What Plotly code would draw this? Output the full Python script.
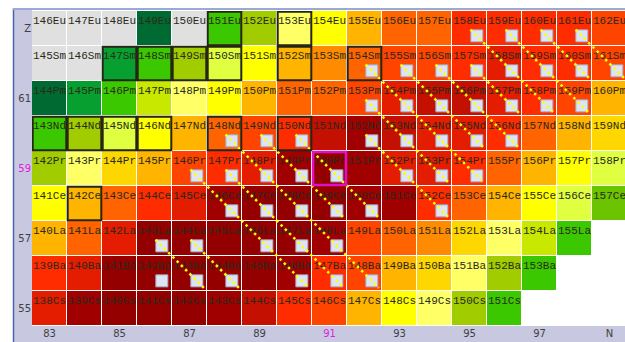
import plotly.graph_objects as go

# Chart of nuclides: rows are elements (Z), columns are neutron numbers (N)
symbols = ['Cs', 'Ba', 'La', 'Ce', 'Pr', 'Nd', 'Pm', 'Sm', 'Eu']
z_numbers = [55, 56, 57, 58, 59, 60, 61, 62, 63]
n_first = 83
n_last = 99

# Colour classes (index -> fill colour)
palette = [
    '#e0e0e0',  # 0  grey
    '#006a33',  # 1  dark green
    '#07a030',  # 2  medium green
    '#3cc800',  # 3  green
    '#6cc400',  # 4
    '#a0cc00',  # 5  yellow-green
    '#c8e800',  # 6  lime
    '#e0ff40',  # 7  pale lime
    '#ffff66',  # 8  light yellow
    '#ffff00',  # 9  yellow
    '#ffd700',  # 10 gold
    '#ffb400',  # 11 orange-yellow
    '#ff8c00',  # 12 orange
    '#ff6400',  # 13 dark orange
    '#ff4400',  # 14 orange-red
    '#ff2c00',  # 15 red-orange
    '#e41c00',  # 16 red
    '#c41000',  # 17 dark red
    '#a00000',  # 18 darker red
    '#940000',  # 19 deepest red
]

# Colour class of each nuclide, starting at N = 83
cs_levels = [16, 18, 19, 19, 19, 18, 17, 15, 14, 11, 9, 8, 5, 3]
ba_levels = [15, 16, 19, 19, 19, 19, 19, 18, 15, 14, 11, 10, 8, 5, 3]
la_levels = [11, 13, 16, 19, 19, 19, 19, 19, 18, 14, 13, 12, 10, 8, 6, 3]
ce_levels = [9, 11, 13, 15, 16, 18, 19, 19, 19, 18, 18, 15, 13, 11, 9, 7, 4]
pr_levels = [5, 8, 10, 11, 14, 15, 16, 18, 19, 18, 16, 16, 15, 13, 11, 9, 7]
nd_levels = [3, 5, 7, 9, 11, 13, 14, 15, 17, 18, 17, 16, 16, 15, 13, 11, 10]
pm_levels = [1, 2, 3, 6, 8, 9, 11, 13, 13, 14, 16, 17, 17, 16, 15, 14, 11]
sm_levels = [0, 0, 2, 3, 5, 7, 9, 11, 12, 13, 14, 14, 15, 16, 15, 15, 14]
eu_levels = [0, 0, 0, 1, 0, 3, 5, 8, 9, 11, 13, 13, 15, 15, 15, 15, 14]
level_rows = [cs_levels, ba_levels, la_levels, ce_levels, pr_levels,
              nd_levels, pm_levels, sm_levels, eu_levels]

# Mass numbers carrying a marker square
sq_cs = []
sq_ba = [142, 143, 144, 146, 147, 148]
sq_la = [143, 144, 146, 147, 148]
sq_ce = [146, 147, 148, 149, 150, 152]
sq_pr = [146, 147, 148, 149, 150, 152, 153, 154]
sq_nd = [148, 149, 150, 152, 153, 154, 155, 156]
sq_pm = [153, 154, 155, 156, 157, 158, 159]
sq_sm = [154, 155, 156, 157, 158, 159, 160, 161]
sq_eu = [158, 159, 160, 161]
square_rows = [sq_cs, sq_ba, sq_la, sq_ce, sq_pr, sq_nd, sq_pm, sq_sm, sq_eu]

# Stable nuclides (outlined)
stable_ce = [142]
stable_nd = [143, 144, 145, 146, 148, 150]
stable_sm = [147, 148, 149, 150, 152, 154]
stable_eu = [151, 153]
stable_rows = {'Ce': stable_ce, 'Nd': stable_nd, 'Sm': stable_sm, 'Eu': stable_eu}

# Selected nuclide
sel_symbol = 'Pr'
sel_mass = 150

n_values = list(range(n_first, n_last + 1))

# ---- heatmap matrix and labels ----
z_matrix = []
lab_x, lab_y, lab_t = [], [], []
for sym, zz, row in zip(symbols, z_numbers, level_rows):
    full = row + [None] * (len(n_values) - len(row))
    z_matrix.append(full)
    for n, lv in zip(n_values, full):
        if lv is not None:
            lab_x.append(n)
            lab_y.append(zz + 0.22)
            lab_t.append(f'{zz + n}{sym}')

ncol = len(palette)
colorscale = []
for i, c in enumerate(palette):
    colorscale.append([i / ncol, c])
    colorscale.append([(i + 1) / ncol, c])

fig = go.Figure()
fig.add_trace(go.Heatmap(
    x=n_values, y=z_numbers, z=z_matrix,
    colorscale=colorscale, zmin=-0.5, zmax=ncol - 0.5,
    showscale=False, xgap=1, ygap=1, hoverinfo='skip',
))

fig.add_trace(go.Scatter(
    x=lab_x, y=lab_y, text=lab_t, mode='text',
    textfont=dict(family='Liberation Mono', size=11, color='#2a2a1a'),
    hoverinfo='skip', showlegend=False,
))

# ---- marker squares and isobar chains ----
dx, dy = 0.21, -0.21
sq_x, sq_y = [], []
sq_set = {}
for zz, masses in zip(z_numbers, square_rows):
    for a in masses:
        n = a - zz
        sq_x.append(n + dx)
        sq_y.append(zz + dy)
        sq_set.setdefault(a, []).append(zz)

line_x, line_y = [], []
for a, zs in sorted(sq_set.items()):
    zs = sorted(zs, reverse=True)
    # split into runs of consecutive Z
    runs = [[zs[0]]]
    for zz in zs[1:]:
        if runs[-1][-1] - zz == 1:
            runs[-1].append(zz)
        else:
            runs.append([zz])
    for run in runs:
        if len(run) < 2:
            continue
        z_top, z_bot = run[0], run[-1]
        line_x += [a - z_top + dx - 0.18, a - z_bot + dx + 0.2, None]
        line_y += [z_top + dy + 0.18, z_bot + dy - 0.2, None]

fig.add_trace(go.Scatter(
    x=sq_x, y=sq_y, mode='markers',
    marker=dict(symbol='square', size=12, color='#dde5f3',
                line=dict(color='#a4a8c8', width=1)),
    hoverinfo='skip', showlegend=False,
))
fig.add_trace(go.Scatter(
    x=line_x, y=line_y, mode='lines',
    line=dict(color='#ffff00', width=2.5, dash='2.5px,3.5px'),
    hoverinfo='skip', showlegend=False,
))

# ---- outlines ----
shapes = []
for sym, zz in zip(symbols, z_numbers):
    for a in stable_rows.get(sym, []):
        n = a - zz
        shapes.append(dict(type='rect', xref='x', yref='y',
                           x0=n - 0.48, x1=n + 0.48, y0=zz - 0.48, y1=zz + 0.48,
                           line=dict(color='#262616', width=2), layer='above'))
sel_z = z_numbers[symbols.index(sel_symbol)]
sel_n = sel_mass - sel_z
shapes.append(dict(type='rect', xref='x', yref='y',
                   x0=sel_n - 0.47, x1=sel_n + 0.47, y0=sel_z - 0.47, y1=sel_z + 0.47,
                   line=dict(color='#e010c8', width=2.5), layer='above'))

# ---- frame and axis bands ----
W, H = 625, 342
ml, mt, mb = 32, 11, 16
pw, ph = W - ml, H - mt - mb
def px_x(px):
    return (px - ml) / pw
def px_y(py):
    return (H - mb - py) / ph

band = '#c8c8e0'
shapes += [
    dict(type='rect', xref='paper', yref='paper', x0=px_x(14), x1=0,
         y0=px_y(H), y1=px_y(9), fillcolor=band, line=dict(width=0), layer='below'),
    dict(type='rect', xref='paper', yref='paper', x0=px_x(14), x1=1,
         y0=px_y(H), y1=0, fillcolor=band, line=dict(width=0), layer='below'),
    dict(type='line', xref='paper', yref='paper', x0=px_x(13.5), x1=px_x(13.5),
         y0=px_y(H), y1=px_y(8), line=dict(color='#4a64b4', width=1.5)),
    dict(type='line', xref='paper', yref='paper', x0=px_x(13), x1=1,
         y0=px_y(9), y1=px_y(9), line=dict(color='#9aaad6', width=2)),
]

hi = '#e020e0'
x_ticks = [83, 85, 87, 89, 91, 93, 95, 97, 99]
x_text = ['83', '85', '87', '89', f"<span style='color:{hi}'>91</span>",
          '93', '95', '97', 'N']
y_ticks = [63, 61, 59, 57, 55]
y_text = ['Z', '61', f"<span style='color:{hi}'>59</span>", '57', '55']

fig.update_layout(
    width=W, height=H,
    margin=dict(l=ml, r=0, t=mt, b=mb, pad=0),
    paper_bgcolor='white', plot_bgcolor='white',
    showlegend=False,
    shapes=shapes,
    xaxis=dict(range=[n_first - 0.5, n_first - 0.5 + pw / 35], showgrid=False,
               zeroline=False, tickvals=x_ticks, ticktext=x_text, ticks='',
               tickfont=dict(family='DejaVu Sans', size=10, color='#404040'),
               fixedrange=True),
    yaxis=dict(range=[54.5, 63.5], showgrid=False, zeroline=False,
               tickvals=y_ticks, ticktext=y_text, ticks='',
               tickfont=dict(family='DejaVu Sans', size=10, color='#404040'),
               fixedrange=True),
)

fig.write_html('out.html')
